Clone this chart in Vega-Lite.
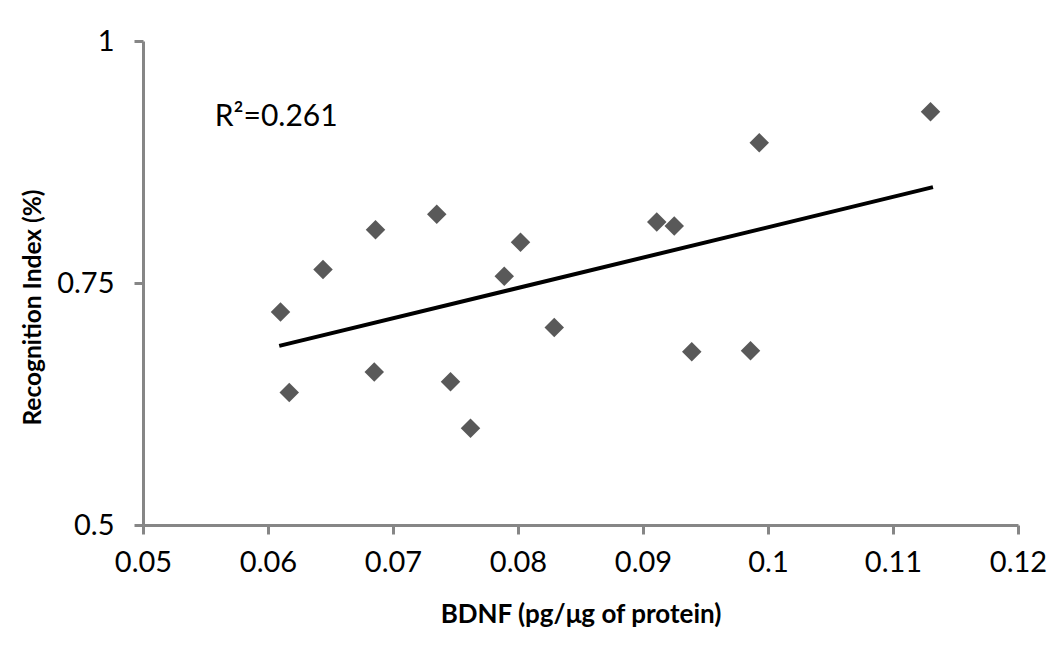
{
  "$schema": "https://vega.github.io/schema/vega-lite/v6.json",
  "width": 875,
  "height": 484,
  "autosize": {"type": "none"},
  "padding": {"left": 143, "top": 41, "right": 33, "bottom": 141},
  "background": "white",
  "config": {
    "view": {"stroke": null},
    "font": "Lato",
    "axis": {
      "grid": false,
      "domainColor": "#868686",
      "domainWidth": 3,
      "tickColor": "#868686",
      "tickWidth": 3,
      "tickSize": 9,
      "labelFont": "Lato",
      "labelFontSize": 29,
      "labelColor": "#000000",
      "titleFont": "Lato",
      "titleFontSize": 26,
      "titleFontWeight": "bold",
      "titleColor": "#000000",
      "labelFlush": false,
      "labelOverlap": false
    }
  },
  "datasets": {
    "points": [
      {"bdnf": 0.0610, "ri": 0.720},
      {"bdnf": 0.0617, "ri": 0.637},
      {"bdnf": 0.0644, "ri": 0.764},
      {"bdnf": 0.0686, "ri": 0.805},
      {"bdnf": 0.0685, "ri": 0.658},
      {"bdnf": 0.0735, "ri": 0.821},
      {"bdnf": 0.0746, "ri": 0.648},
      {"bdnf": 0.0762, "ri": 0.600},
      {"bdnf": 0.0789, "ri": 0.757},
      {"bdnf": 0.0802, "ri": 0.792},
      {"bdnf": 0.0829, "ri": 0.704},
      {"bdnf": 0.0911, "ri": 0.813},
      {"bdnf": 0.0925, "ri": 0.809},
      {"bdnf": 0.0939, "ri": 0.679},
      {"bdnf": 0.0986, "ri": 0.680},
      {"bdnf": 0.0993, "ri": 0.895},
      {"bdnf": 0.1130, "ri": 0.927}
    ],
    "trend": [
      {"bdnf": 0.0609, "ri": 0.685},
      {"bdnf": 0.1132, "ri": 0.849}
    ],
    "note": [
      {"bdnf": 0.05574, "ri": 0.912, "label": "R²=0.261"}
    ]
  },
  "layer": [
    {
      "data": {"name": "trend"},
      "mark": {"type": "line", "color": "#000000", "strokeWidth": 4, "strokeCap": "butt"},
      "encoding": {
        "x": {
          "field": "bdnf",
          "type": "quantitative",
          "scale": {"domain": [0.05, 0.12], "nice": false, "zero": false},
          "axis": {
            "title": "BDNF (pg/μg of protein)",
            "values": [0.05, 0.06, 0.07, 0.08, 0.09, 0.1, 0.11, 0.12],
            "labelExpr": "'' + datum.value",
            "labelPadding": 14,
            "titleY": 97,
            "titleBaseline": "alphabetic"
          }
        },
        "y": {
          "field": "ri",
          "type": "quantitative",
          "scale": {"domain": [0.5, 1], "nice": false, "zero": false},
          "axis": {
            "title": "Recognition Index (%)",
            "values": [0.5, 0.75, 1],
            "labelExpr": "'' + datum.value",
            "labelPadding": 20,
            "titleX": -110,
            "titleY": 266,
            "titleFontSize": 24.5,
            "titleAlign": "center",
            "titleBaseline": "middle",
            "titleAngle": -90
          }
        }
      }
    },
    {
      "data": {"name": "points"},
      "mark": {"type": "point", "shape": "diamond", "filled": true, "color": "#595959", "opacity": 1, "size": 380, "strokeWidth": 0},
      "encoding": {
        "x": {"field": "bdnf", "type": "quantitative"},
        "y": {"field": "ri", "type": "quantitative"}
      }
    },
    {
      "data": {"name": "note"},
      "mark": {"type": "text", "align": "left", "baseline": "alphabetic", "fontSize": 30, "font": "Lato", "color": "#000000"},
      "encoding": {
        "x": {"field": "bdnf", "type": "quantitative"},
        "y": {"field": "ri", "type": "quantitative"},
        "text": {"field": "label"}
      }
    }
  ]
}
